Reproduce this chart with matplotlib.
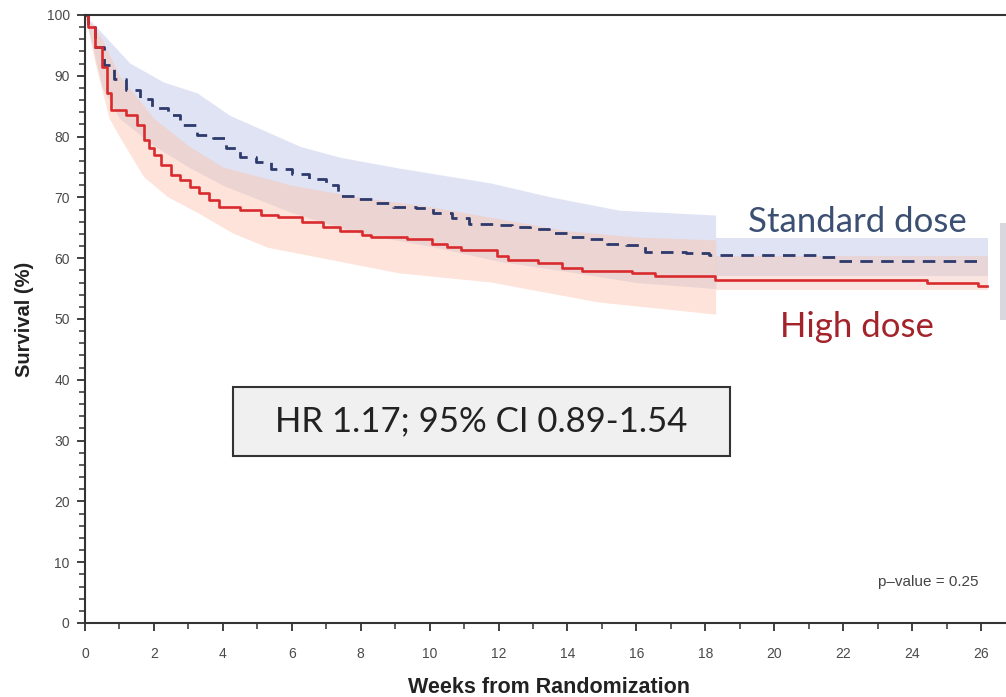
import matplotlib
matplotlib.use("Agg")
import matplotlib.pyplot as plt
from matplotlib.ticker import MultipleLocator
from matplotlib.patches import Rectangle
import numpy as np

# ---- data ----
high_t = [0, 0.1, 0.3, 0.5, 0.65, 0.75, 1.2, 1.5, 1.7, 1.85, 2.0, 2.2, 2.5, 2.75, 3.05,
          3.3, 3.6, 3.9, 4.5, 5.1, 5.6, 6.3, 6.9, 7.4, 8.05, 8.3, 9.35, 10.07, 10.5,
          10.9, 11.96, 12.28, 13.15, 13.84, 14.42, 15.87, 16.54, 18.28, 24.43, 25.9, 26.17]
high_s = [100, 98, 94.7, 91.4, 87.2, 84.4, 83.5, 81.9, 79.4, 78.1, 77.0, 75.3, 73.7, 72.9, 71.7,
          70.7, 69.6, 68.4, 67.9, 67.1, 66.7, 65.9, 65.1, 64.4, 63.8, 63.5, 63.2, 62.3, 61.8,
          61.3, 60.4, 59.7, 59.2, 58.4, 57.9, 57.6, 57.1, 56.4, 55.9, 55.4, 55.4]

std_t = [0, 0.1, 0.3, 0.55, 0.85, 1.2, 1.6, 1.95, 2.4, 2.75, 3.25, 3.7, 4.1, 4.5, 4.95,
         5.4, 6.0, 6.5, 7.0, 7.35, 7.85, 8.45, 8.95, 9.6, 10.1, 10.65, 11.15, 11.9, 12.4,
         12.9, 13.45, 14.0, 14.6, 15.15, 15.7, 16.25, 17.45, 18.1, 21.2, 21.85, 26.05]
std_s = [100, 98, 94.7, 91.8, 89.5, 87.7, 86.2, 84.7, 83.6, 81.9, 80.3, 79.8, 78.1, 76.6, 75.8,
         74.7, 73.8, 73.0, 72.0, 70.3, 69.7, 69.1, 68.4, 68.3, 67.4, 66.6, 65.7, 65.5, 65.1,
         64.8, 64.1, 63.5, 63.2, 62.3, 62.2, 61.0, 60.8, 60.5, 60.2, 59.5, 59.5]

# confidence bands
std_hi_t = [0, 0.5, 1.3, 2.27, 3.25, 4.2, 6.24, 7.4, 9.14, 11.75, 13.5, 15.5, 18.3]
std_hi = [100, 97, 92.1, 89.0, 87.2, 83.5, 78.4, 76.6, 74.8, 72.4, 70.1, 67.9, 67.1]
std_lo_t = [0, 0.5, 1, 2, 3, 4, 6, 8, 10, 12, 14, 16, 18.3]
std_lo = [100, 88, 83, 78.5, 75, 72, 67.5, 64, 62, 59.5, 57.8, 56, 55]

high_hi_t = [0, 0.5, 1, 2, 3, 4, 6, 8, 10, 12, 14, 16, 18.3]
high_hi = [100, 96, 90, 83, 78.5, 75, 72, 70, 68.5, 66.5, 64.5, 63.5, 63]
high_lo_t = [0, 0.3, 0.7, 1.0, 1.7, 2.4, 3.3, 4.3, 5.3, 6.2, 7.2, 9.1, 11.75, 14.9, 18.3]
high_lo = [100, 92, 83, 80, 73.4, 70.1, 67.4, 64.1, 61.8, 60.8, 59.7, 57.6, 56.1, 52.8, 50.8]

late_t = [18.3, 26.2]
std_late_lo, std_late_hi = [57.0, 57.0], [63.3, 63.3]
high_late_lo, high_late_hi = [54.8, 54.8], [60.3, 60.3]
edge_t = [26.55, 27.2]
edge_lo, edge_hi = [49.8, 49.8], [65.8, 65.8]

x_ticks = list(range(0, 27, 2))
y_ticks = list(range(0, 101, 10))

# ---- figure ----
plt.rcParams['lines.scale_dashes'] = False
fig = plt.figure(figsize=(10.06, 6.97), dpi=100)
ax = fig.add_axes([85/1006, 74/697, 927/1006, 608/697])

t_grid_std = np.union1d(std_hi_t, std_lo_t)
ax.fill_between(t_grid_std, np.interp(t_grid_std, std_lo_t, std_lo),
                np.interp(t_grid_std, std_hi_t, std_hi),
                color='#c3c9ea', alpha=0.5, lw=0)
t_grid_high = np.union1d(high_hi_t, high_lo_t)
ax.fill_between(t_grid_high, np.interp(t_grid_high, high_lo_t, high_lo),
                np.interp(t_grid_high, high_hi_t, high_hi),
                color='#fbc2ab', alpha=0.45, lw=0)
ax.fill_between(late_t, std_late_lo, std_late_hi, color='#c3c9ea', alpha=0.5, lw=0)
ax.fill_between(late_t, high_late_lo, high_late_hi, color='#f3c4b8', alpha=0.45, lw=0)
ax.fill_between(edge_t, edge_lo, edge_hi, color='#d8d6de', lw=0)

ax.step(std_t, std_s, where='post', color='#2d3a6b', lw=2.0,
        linestyle=(0, (9, 6)))
ax.step(high_t, high_s, where='post', color='#d92b2e', lw=1.9)

ax.set_xlim(0, 26.9)
ax.set_ylim(0, 100)
ax.set_xticks(x_ticks)
ax.set_yticks(y_ticks)
ax.xaxis.set_minor_locator(MultipleLocator(1))
ax.yaxis.set_minor_locator(MultipleLocator(2))
ax.tick_params(axis='both', which='major', direction='out', length=6, width=1.3,
               color='#333333', labelsize=10, labelcolor='#4a4a4a')
ax.tick_params(axis='both', which='minor', direction='out', length=4, width=1.1,
               color='#333333')
ax.tick_params(axis='x', pad=11)
ax.tick_params(axis='y', pad=5)
for lab in ax.get_xticklabels() + ax.get_yticklabels():
    lab.set_family('Liberation Sans')

for s in ['left', 'bottom', 'top']:
    ax.spines[s].set_color('#333333')
    ax.spines[s].set_linewidth(1.5)
ax.spines['right'].set_visible(False)

ax.set_xlabel('Weeks from Randomization', fontsize=15.5, fontweight='bold',
              family='Liberation Sans', color='#222222', labelpad=12)
ax.set_ylabel('Survival (%)', fontsize=14.5, fontweight='bold',
              family='Liberation Sans', color='#222222', labelpad=9)

ax.text(22.4, 66.0, 'Standard dose', fontsize=25, family='Lato', color='#3b4f72',
        ha='center', va='center')
ax.text(22.4, 48.7, 'High dose', fontsize=25, family='Lato', color='#a3232b',
        ha='center', va='center')
ax.text(23.0, 6.7, 'p\u2013value = 0.25', fontsize=11, family='Liberation Sans',
        color='#444444', ha='left', va='center')

fig.patches.append(Rectangle((233/1006, 1 - 456/697), 497/1006, 69/697,
                             transform=fig.transFigure, facecolor='#f0f0f0',
                             edgecolor='#333333', linewidth=1.5, zorder=5))
fig.text(481.5/1006, 1 - 421.5/697, 'HR 1.17; 95% CI 0.89-1.54', fontsize=25,
         family='Lato', color='#222222', ha='center', va='center', zorder=6)

fig.savefig('out.png', dpi=100)
